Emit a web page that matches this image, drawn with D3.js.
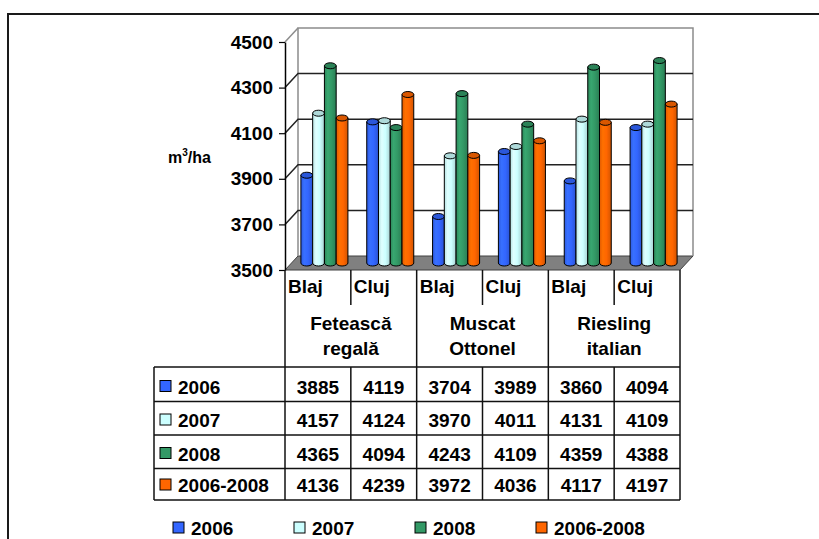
<!DOCTYPE html>
<html>
<head>
<meta charset="utf-8">
<script src="https://cdn.jsdelivr.net/npm/d3@7/dist/d3.min.js"></script>
<style>
  html, body { margin: 0; padding: 0; background: #fff; }
  svg { display: block; }
  text { font-family: "Liberation Sans", Arial, Helvetica, sans-serif; font-weight: bold; fill: #000; }
</style>
</head>
<body>
<svg id="chart" width="819" height="539"></svg>
<script>
// Water consumption (m³/ha) by grape variety and site, 2006–2008
const varieties = [["Fetească", "regală"], ["Muscat", "Ottonel"], ["Riesling", "italian"]];
const sites = ["Blaj", "Cluj"];
const seriesNames = ["2006", "2007", "2008", "2006-2008"];
const v2006 = [3885, 4119, 3704, 3989, 3860, 4094];
const v2007 = [4157, 4124, 3970, 4011, 4131, 4109];
const v2008 = [4365, 4094, 4243, 4109, 4359, 4388];
const vMean = [4136, 4239, 3972, 4036, 4117, 4197];
const seriesColors = ["#3366ff", "#ccffff", "#339966", "#ff6600"];
const yTicks = [3500, 3700, 3900, 4100, 4300, 4500];
const axisTitle = "m";
const axisTitleSup = "3";
const axisTitleTail = "/ha";

const seriesValues = [v2006, v2007, v2008, vMean];
const columns = [];
varieties.forEach((v, gi) => sites.forEach((s, si) => columns.push({ key: gi + "-" + si, site: s, group: gi })));

const svg = d3.select("#chart");

// plot geometry
const left = 285, right = 680, floorY = 270, topY = 42;
const DX = 13, DY = -14;   // depth offset of the back wall

const y = d3.scaleLinear().domain([3500, 4500]).range([floorY, topY]);
const x = d3.scaleBand().domain(columns.map(c => c.key)).range([left, right]).padding(0);
const xs = d3.scaleBand().domain(seriesNames).range([0, x.bandwidth()]).paddingInner(0).paddingOuter(0.8);

// outer frame
svg.append("path")
  .attr("d", "M8,545 L8,14 L825,14")
  .attr("fill", "none").attr("stroke", "#1a1a1a").attr("stroke-width", 2);

// gradients for cylinders
const defs = svg.append("defs");
seriesColors.forEach((c, i) => {
  const g = defs.append("linearGradient").attr("id", "cyl" + i).attr("x1", 0).attr("x2", 1).attr("y1", 0).attr("y2", 0);
  const base = d3.color(c);
  g.append("stop").attr("offset", "0%").attr("stop-color", base.darker(0.35));
  g.append("stop").attr("offset", "28%").attr("stop-color", base.brighter(0.25));
  g.append("stop").attr("offset", "60%").attr("stop-color", base);
  g.append("stop").attr("offset", "100%").attr("stop-color", base.darker(0.55));
});

// floor
const floorPts = [[left, floorY], [right, floorY], [right + DX, floorY + DY], [left + DX, floorY + DY]];
svg.append("polygon").attr("points", floorPts.map(p => p.join(",")).join(" "))
  .attr("fill", "#808080").attr("stroke", "#404040").attr("stroke-width", 1);

// back wall frame
svg.append("path")
  .attr("d", `M${left + DX},${y(3500) + DY} L${left + DX},${y(4500) + DY} L${right + DX},${y(4500) + DY} L${right + DX},${y(3500) + DY}`)
  .attr("fill", "none").attr("stroke", "#8c8c8c").attr("stroke-width", 1.5);
svg.append("line")
  .attr("x1", left).attr("y1", y(4500)).attr("x2", left + DX).attr("y2", y(4500) + DY)
  .attr("stroke", "#8c8c8c").attr("stroke-width", 1.5);

// gridlines: side-wall diagonal + back-wall horizontal
const inner = yTicks.filter(t => t > 3500 && t < 4500);
svg.append("g").selectAll("path").data(inner).join("path")
  .attr("d", t => `M${left},${y(t)} L${left + DX},${y(t) + DY} L${right + DX},${y(t) + DY}`)
  .attr("fill", "none").attr("stroke", "#222").attr("stroke-width", 1.5);

// cylinders
const ry = 3;
columns.forEach((col, ci) => {
  seriesNames.forEach((s, si) => {
    const v = seriesValues[si][ci];
    const x0 = x(col.key) + xs(s) + DX / 2;
    const w = xs.bandwidth();
    const rx = w / 2;
    const yt = y(v) + DY / 2;
    const yb = y(3500) + DY / 2;
    const g = svg.append("g");
    g.append("path")
      .attr("d", `M${x0},${yt} L${x0},${yb} A${rx},${ry} 0 0 0 ${x0 + w},${yb} L${x0 + w},${yt} Z`)
      .attr("fill", `url(#cyl${si})`).attr("stroke", "#000").attr("stroke-width", 1);
    g.append("ellipse")
      .attr("cx", x0 + rx).attr("cy", yt).attr("rx", rx).attr("ry", ry)
      .attr("fill", d3.color(seriesColors[si]).darker(0.45)).attr("stroke", "#000").attr("stroke-width", 1);
  });
});

// value axis
const axis = d3.axisLeft(y).tickValues(yTicks).tickSize(6).tickSizeOuter(0).tickPadding(6).tickFormat(d3.format("d"));
const ag = svg.append("g").attr("transform", `translate(${left},0)`).call(axis);
ag.select(".domain").attr("stroke", "#000").attr("stroke-width", 1.5);
ag.selectAll(".tick line").attr("stroke", "#000").attr("stroke-width", 1.2);
ag.selectAll(".tick text").style("font-size", "19px").style("font-family", "'Liberation Sans', Arial, sans-serif")
  .style("font-weight", "bold").attr("fill", "#000");

// axis title
const at = svg.append("text").attr("x", 168).attr("y", 163).style("font-size", "16px");
at.append("tspan").text(axisTitle);
at.append("tspan").text(axisTitleSup).style("font-size", "10px").attr("dy", -7);
at.append("tspan").text(axisTitleTail).attr("dy", 7);

// data table under the category axis
const tableLeft = 154, headerBottom = 367;
const rowBounds = [367, 401.5, 435, 468.5, 500];
const lineCol = "#111";
const tg = svg.append("g");
const ln = (x1, y1, x2, y2, sw = 1.5) => tg.append("line").attr("x1", x1).attr("y1", y1).attr("x2", x2).attr("y2", y2)
  .attr("stroke", lineCol).attr("stroke-width", sw);

// header
ln(left, floorY, left, 500);
ln(right, floorY, right, 500);
columns.forEach((col, ci) => {
  const cx = x(col.key);
  if (ci > 0) {
    if (ci % 2 === 0) ln(cx, floorY, cx, 500);
    else { ln(cx, floorY, cx, 305); ln(cx, headerBottom, cx, 500); }
  }
  tg.append("text").attr("x", cx + 3).attr("y", 293).style("font-size", "19px").text(col.site);
});
varieties.forEach((v, gi) => {
  const cx = x(gi + "-0") + x.bandwidth();
  v.forEach((line, li) => {
    tg.append("text").attr("x", cx).attr("y", 330 + li * 25).attr("text-anchor", "middle")
      .style("font-size", "19px").text(line);
  });
});

// body rows
rowBounds.forEach(yy => ln(tableLeft, yy, right, yy));
ln(tableLeft, headerBottom, tableLeft, 500);
seriesNames.forEach((s, si) => {
  const base = rowBounds[si + 1] - 8;
  tg.append("rect").attr("x", 160).attr("y", base - 13).attr("width", 11).attr("height", 11)
    .attr("fill", seriesColors[si]).attr("stroke", "#000").attr("stroke-width", 1);
  tg.append("text").attr("x", 178).attr("y", base).style("font-size", "19px").text(s);
  columns.forEach((col, ci) => {
    tg.append("text").attr("x", x(col.key) + x.bandwidth() / 2).attr("y", base)
      .attr("text-anchor", "middle").style("font-size", "19px").text(seriesValues[si][ci]);
  });
});

// legend
const lg = svg.append("g");
seriesNames.forEach((s, si) => {
  const lx = 173 + si * 121;
  lg.append("rect").attr("x", lx).attr("y", 522).attr("width", 11).attr("height", 11)
    .attr("fill", seriesColors[si]).attr("stroke", "#000").attr("stroke-width", 1);
  lg.append("text").attr("x", lx + 18).attr("y", 535).style("font-size", "19px").text(s);
});
</script>
</body>
</html>
